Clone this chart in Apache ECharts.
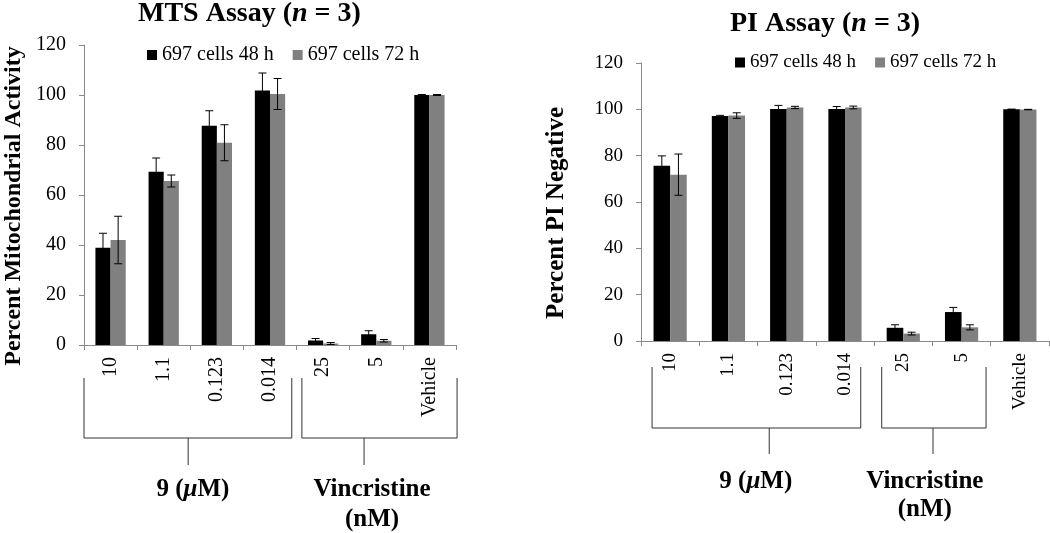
<!DOCTYPE html>
<html>
<head>
<meta charset="utf-8">
<script src="https://cdn.jsdelivr.net/npm/echarts@6/dist/echarts.min.js"></script>
<style>html,body{margin:0;padding:0;background:#fff}#c{width:1050px;height:533px}</style>
</head>
<body>
<div id="c"></div>
<script>
// ---- data ----
var categories = ['10', '1.1', '0.123', '0.014', '25', '5', 'Vehicle'];
var seriesNames = ['697 cells 48 h', '697 cells 72 h'];
var mts48 = [38.9, 69.3, 87.7, 101.8, 1.8, 4.3, 100.0];
var mts48Err = [5.8, 5.5, 6.0, 7.0, 0.8, 1.4, 0.2];
var mts72 = [42.0, 65.6, 80.9, 100.4, 0.6, 1.7, 100.0];
var mts72Err = [9.5, 2.4, 7.2, 6.2, 0.4, 0.5, 0.2];
var pi48 = [75.6, 97.1, 100.1, 100.1, 5.7, 12.5, 100.0];
var pi48Err = [4.3, 0.3, 1.6, 1.1, 1.3, 2.0, 0.1];
var pi72 = [71.8, 97.3, 100.8, 100.8, 3.2, 5.9, 99.9];
var pi72Err = [8.9, 1.2, 0.5, 0.6, 0.6, 1.1, 0.1];
var yTicks = [0, 20, 40, 60, 80, 100, 120];
var groupNames = ['9 (μM)', 'Vincristine', '(nM)'];

// ---- layout / style ----
var FONT = "'Liberation Serif', 'Times New Roman', serif";
var AXIS_COLOR = '#8a8a8a';
var GAP = 0.43; // barCategoryGap
var brackets = [
  { groups: [{ from: -0.5, to: 3.41, stem: 1.46, label: 1.55 }, { from: 3.6, to: 6.52, stem: 4.77, label: 4.92 }],
    vTop: 33, hY: 93, stemBot: 120, l1: 145, l2: 175 },
  { groups: [{ from: -0.31, to: 3.27, stem: 1.70, label: 1.47 }, { from: 3.63, to: 5.42, stem: 4.51, label: 4.37 }],
    vTop: 26, hY: 87, stemBot: 113, l1: 141, l2: 169 }
];

function errSeries(vals, errs, side, gi) {
  return {
    type: 'custom', xAxisIndex: gi, yAxisIndex: gi, z: 5, silent: true,
    data: vals.map(function (v, i) { return [i, v, errs[i]]; }),
    renderItem: function (params, api) {
      var i = api.value(0), v = api.value(1), e = api.value(2);
      var bw = api.size([1, 0])[0];
      var off = side * bw * (1 - GAP) / 4;
      var p1 = api.coord([i, v + e]);
      var p2 = api.coord([i, v - e]);
      var x = p1[0] + off, cap = 4;
      var st = { stroke: '#000', lineWidth: 1 };
      return { type: 'group', children: [
        { type: 'line', shape: { x1: x, y1: p1[1], x2: x, y2: p2[1] }, style: st },
        { type: 'line', shape: { x1: x - cap, y1: p1[1], x2: x + cap, y2: p1[1] }, style: st },
        { type: 'line', shape: { x1: x - cap, y1: p2[1], x2: x + cap, y2: p2[1] }, style: st }
      ] };
    }
  };
}

function bracketSeries(gi) {
  var b = brackets[gi];
  return {
    type: 'custom', xAxisIndex: gi, yAxisIndex: gi, silent: true, clip: false,
    data: [[0, 0]],
    renderItem: function (params, api) {
      var o = api.coord([0, 0]);
      var bw = api.size([1, 0])[0];
      var y0 = o[1];
      function X(c) { return o[0] + c * bw; }
      var st = { stroke: '#333', lineWidth: 1, fill: null };
      var ch = [];
      b.groups.forEach(function (g) {
        ch.push({ type: 'polyline', shape: { points: [[X(g.from), y0 + b.vTop], [X(g.from), y0 + b.hY], [X(g.to), y0 + b.hY], [X(g.to), y0 + b.vTop]] }, style: st });
        ch.push({ type: 'line', shape: { x1: X(g.stem), y1: y0 + b.hY, x2: X(g.stem), y2: y0 + b.stemBot }, style: st });
      });
      var g0 = b.groups[0], g1 = b.groups[1];
      var rich = {
        a: { fontFamily: FONT, fontWeight: 'bold', fontSize: 25, fill: '#000' },
        m: { fontFamily: FONT, fontWeight: 'bold', fontStyle: 'italic', fontSize: 25, fill: '#000' }
      };
      var parts = groupNames[0].split('μ');
      ch.push({ type: 'text', x: X(g0.label), y: y0 + b.l1, style: {
        text: '{a|' + parts[0] + '}{m|μ}{a|' + parts[1] + '}', rich: rich, align: 'center', verticalAlign: 'middle' } });
      ch.push({ type: 'text', x: X(g1.label), y: y0 + b.l1, style: {
        text: groupNames[1], font: 'bold 25px ' + FONT, fill: '#000', align: 'center', verticalAlign: 'middle' } });
      ch.push({ type: 'text', x: X(g1.label), y: y0 + b.l2, style: {
        text: groupNames[2], font: 'bold 25px ' + FONT, fill: '#000', align: 'center', verticalAlign: 'middle' } });
      return { type: 'group', children: ch };
    }
  };
}

function xAxis(gi) {
  return {
    type: 'category', gridIndex: gi, data: categories,
    axisLine: { lineStyle: { color: AXIS_COLOR, width: 1 } },
    axisTick: { show: true, length: 5, lineStyle: { color: AXIS_COLOR } },
    axisLabel: { rotate: 90, margin: 12, interval: 0, color: '#000', fontFamily: FONT, fontSize: gi === 0 ? 20 : 19 }
  };
}
function yAxis(gi, name, gap) {
  return {
    type: 'value', gridIndex: gi, min: yTicks[0], max: yTicks[yTicks.length - 1], interval: yTicks[1] - yTicks[0],
    name: name, nameLocation: 'middle', nameRotate: 90, nameGap: gap,
    nameTextStyle: { fontFamily: FONT, fontWeight: 'bold', fontSize: gi === 0 ? 24 : 25, color: '#000', padding: [0, 22, 0, 0] },
    axisLine: { show: true, lineStyle: { color: AXIS_COLOR, width: 1 } },
    axisTick: { show: true, length: 5, lineStyle: { color: AXIS_COLOR } },
    splitLine: { show: false },
    axisLabel: { margin: 18, color: '#000', fontFamily: FONT, fontSize: gi === 0 ? 20 : 19 }
  };
}
function barSeries(name, vals, color, gi) {
  return { type: 'bar', name: name, xAxisIndex: gi, yAxisIndex: gi, data: vals,
    barGap: '0%', barCategoryGap: (GAP * 100) + '%', itemStyle: { color: color }, silent: true };
}
function titleOpt(pre, left, top) {
  return { text: '{a|' + pre + ' (}{b|n}{a| = 3)}', left: left, top: top, padding: 0,
    textStyle: { rich: {
      a: { fontFamily: FONT, fontWeight: 'bold', fontSize: 28, color: '#000' },
      b: { fontFamily: FONT, fontWeight: 'bold', fontStyle: 'italic', fontSize: 28, color: '#000' } } } };
}
function legendOpt(left, top, fs) {
  return { data: seriesNames, left: left, top: top, padding: 0, itemWidth: 10, itemHeight: 10, itemGap: 19,
    icon: 'rect', selectedMode: false, textStyle: { fontFamily: FONT, fontSize: fs, color: '#000' } };
}

var chart = echarts.init(document.getElementById('c'), null, { renderer: 'canvas' });
chart.setOption({
  animation: false,
  backgroundColor: '#fff',
  title: [titleOpt('MTS Assay', 138, 0), titleOpt('PI Assay', 730, 10)],
  legend: [legendOpt(147, 45, 20), legendOpt(735, 53, 19)],
  grid: [
    { left: 84, right: 594, top: 45, bottom: 188, containLabel: false },
    { left: 641, right: 1, top: 63, bottom: 192, containLabel: false }
  ],
  xAxis: [xAxis(0), xAxis(1)],
  yAxis: [yAxis(0, 'Percent Mitochondrial Activity', 58), yAxis(1, 'Percent PI Negative', 72)],
  series: [
    barSeries(seriesNames[0], mts48, '#000000', 0),
    barSeries(seriesNames[1], mts72, '#808080', 0),
    errSeries(mts48, mts48Err, -1, 0),
    errSeries(mts72, mts72Err, 1, 0),
    barSeries(seriesNames[0], pi48, '#000000', 1),
    barSeries(seriesNames[1], pi72, '#808080', 1),
    errSeries(pi48, pi48Err, -1, 1),
    errSeries(pi72, pi72Err, 1, 1),
    bracketSeries(0),
    bracketSeries(1)
  ]
});
</script>
</body>
</html>
